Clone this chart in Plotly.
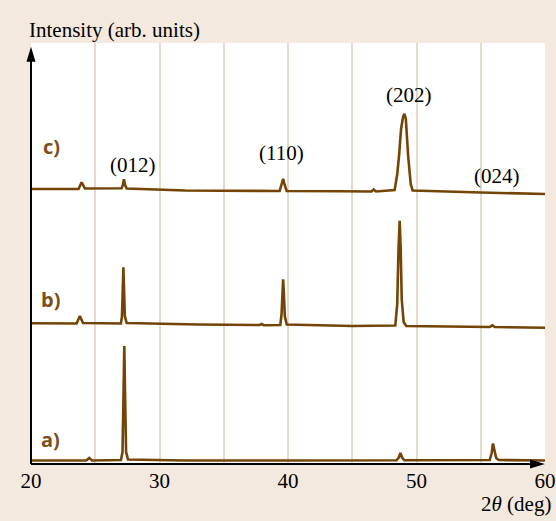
import plotly.graph_objects as go

# ---- data (2theta in deg, intensity in arbitrary units, stacked) ----
a_x = [20, 24.3, 24.53, 24.75, 27.0, 27.12, 27.2, 27.26, 27.32, 27.4, 27.55, 32, 40, 48.45, 48.62, 48.75, 48.88, 49.05,
       55.7, 55.85, 55.95, 56.05, 56.2, 56.4, 60]
a_y = [3.5, 3.5, 6, 3.5, 4, 12, 70, 118, 70, 12, 4.5, 3.5, 3.5, 3.8, 6.5, 11, 6.5, 3.8,
       4, 11, 20.5, 14, 6, 4, 3.5]

b_x = [20, 23.55, 23.8, 24.05, 27.0, 27.08, 27.14, 27.19, 27.24, 27.3, 27.45, 33, 37.8, 37.95, 38.1,
       39.4, 39.5, 39.57, 39.62, 39.68, 39.75, 39.9, 45, 48.35, 48.5, 48.6, 48.69, 48.77, 48.85, 49.0, 49.2,
       55.7, 55.9, 56.1, 60]
b_y = [140.7, 140.5, 148, 141, 140.5, 148, 175, 196.7, 175, 148, 141, 139.5, 139, 140, 138.8,
       139, 150, 175, 184.7, 170, 148, 139.5, 138, 138.5, 160, 215, 243.3, 215, 165, 142, 138,
       137, 138.7, 137, 136.3]

c_x = [20, 23.7, 23.94, 24.2, 27.05, 27.15, 27.23, 27.32, 27.45, 32, 39.35, 39.5, 39.62, 39.74, 39.9,
       44.0, 46.5, 46.67, 46.85, 48.3, 48.5, 48.64, 48.8, 48.95, 49.06, 49.17, 49.35, 49.55, 49.7, 55, 60]
c_y = [275, 275, 281.7, 275.5, 275.7, 279, 284.7, 279, 275.5, 273.5, 273, 279, 285.2, 279, 273,
       272.8, 272.5, 274.5, 272.5, 274, 290, 307.8, 335, 347, 350.2, 345, 308, 280, 273.5, 271.5, 270]

tick_vals = [20, 25, 30, 35, 40, 45, 50, 55, 60]
tick_text = ["20", "", "30", "", "40", "", "50", "", "60"]

peak_labels = ["(012)", "(110)", "(202)", "(024)"]
peak_label_x = [27.94, 39.46, 49.42, 56.23]
peak_label_y = [298.8, 311.2, 369.5, 288.5]

curve_labels = ["a)", "b)", "c)"]
curve_label_x = [21.55, 21.55, 21.63]
curve_label_y = [24.5, 164.5, 317.5]

LINE = "#744407"
LABEL = "#7b4f1a"
BG = "#f3e9df"
GRID = "#e8dacb"
SERIF = "Liberation Serif"

fig = go.Figure()
for xs, ys in [(a_x, a_y), (b_x, b_y), (c_x, c_y)]:
    fig.add_trace(go.Scatter(x=xs, y=ys, mode="lines",
                             line=dict(color=LINE, width=2.6), showlegend=False,
                             hoverinfo="skip"))

annotations = []
for t, x, y in zip(peak_labels, peak_label_x, peak_label_y):
    annotations.append(dict(text=t, x=x, y=y, xref="x", yref="y", showarrow=False,
                            font=dict(family=SERIF, size=21, color="black")))
for t, x, y in zip(curve_labels, curve_label_x, curve_label_y):
    annotations.append(dict(text="<b>" + t + "</b>", x=x, y=y, xref="x", yref="y", showarrow=False,
                            font=dict(family="Open Sans", size=20, color=LABEL, weight="bold")))
annotations.append(dict(text="Intensity (arb. units)", x=-0.008, y=1.031, xref="paper", yref="paper",
                        xanchor="left", yanchor="middle", showarrow=False,
                        font=dict(family=SERIF, size=21, color="black")))
annotations.append(dict(text="2<i>θ</i> (deg)", x=1.0156, y=-0.095, xref="paper", yref="paper",
                        xanchor="right", yanchor="middle", showarrow=False,
                        font=dict(family=SERIF, size=21, color="black")))

shapes = [
    dict(type="line", xref="paper", yref="paper", x0=0, x1=0.985, y0=0, y1=0,
         line=dict(color="black", width=2)),
    dict(type="line", xref="paper", yref="paper", x0=0, x1=0, y0=0, y1=0.975,
         line=dict(color="black", width=2)),
    dict(type="path", xref="paper", yref="paper", xsizemode="pixel", ysizemode="pixel",
         xanchor=1, yanchor=0, path="M 0,0 L -15,4.5 L -15,-4.5 Z",
         fillcolor="black", line=dict(width=0)),
    dict(type="path", xref="paper", yref="paper", xsizemode="pixel", ysizemode="pixel",
         xanchor=0, yanchor=1 - 3.7 / 421, path="M 0,0 L -4.5,-15 L 4.5,-15 Z",
         fillcolor="black", line=dict(width=0)),
]

fig.update_layout(
    width=556, height=521,
    margin=dict(l=31, r=11, t=43, b=57),
    paper_bgcolor=BG, plot_bgcolor="white",
    xaxis=dict(range=[20, 60], tickvals=tick_vals, ticktext=tick_text, showgrid=True,
               gridcolor=GRID, gridwidth=1.5, zeroline=False, showline=False, ticks="",
               automargin=False, ticklabelstandoff=2,
               tickfont=dict(family=SERIF, size=21, color="black"), fixedrange=True),
    yaxis=dict(range=[0, 421], showgrid=False, zeroline=False, showline=False,
               automargin=False, showticklabels=False, ticks="", fixedrange=True),
    annotations=annotations, shapes=shapes,
)

fig.write_html("out.html")
